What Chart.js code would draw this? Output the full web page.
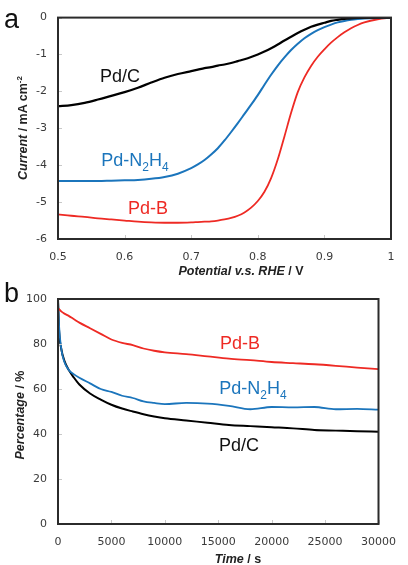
<!DOCTYPE html>
<html>
<head>
<meta charset="utf-8">
<script src="https://cdn.jsdelivr.net/npm/chart.js@4/dist/chart.umd.min.js"></script>
<style>
  html, body { margin: 0; padding: 0; background: #fff; }
  #wrap { position: relative; width: 408px; height: 565px; overflow: hidden; font-family: 'Liberation Sans', Arial, sans-serif; }
  .panel { position: absolute; left: 0; width: 408px; }
  .lbl { position: absolute; transform: translate(-50%, -50%); white-space: nowrap; font-size: 18px; line-height: 1; }
  .lbl sub { font-size: 12px; vertical-align: -5px; line-height: 0; }
  .letter { position: absolute; font-size: 27px; line-height: 1; color: #111; }
  .atitle { position: absolute; white-space: nowrap; font-size: 12.5px; font-weight: bold; color: #222; line-height: 1; }
  .atitle sup { font-size: 8px; vertical-align: 5px; line-height: 0; }
  .rot { transform: translate(-50%, -50%) rotate(-90deg); }
  .hor { transform: translate(-50%, -50%); }
</style>
</head>
<body>
<div id="wrap">
  <div class="panel" style="top:0;height:280px"><canvas id="chart-a"></canvas></div>
  <div class="panel" style="top:280px;height:285px"><canvas id="chart-b"></canvas></div>

  <div class="letter" style="left:4px;top:6px">a</div>
  <div class="letter" style="left:4px;top:280px">b</div>

  <div class="atitle rot" style="left:23px;top:128px"><i>Current</i> / mA cm<sup>-2</sup></div>
  <div class="atitle hor" style="left:241px;top:271px"><i>Potential v.s. RHE</i> / V</div>
  <div class="atitle rot" style="left:20px;top:415px"><i>Percentage</i> / %</div>
  <div class="atitle hor" style="left:238px;top:559px"><i>Time</i> / s</div>

  <div class="lbl" style="left:120px;top:76px;color:#111">Pd/C</div>
  <div class="lbl" style="left:135px;top:160px;color:#1b75bc">Pd-N<sub>2</sub>H<sub>4</sub></div>
  <div class="lbl" style="left:148px;top:208px;color:#ee2a24">Pd-B</div>

  <div class="lbl" style="left:240px;top:343px;color:#ee2a24">Pd-B</div>
  <div class="lbl" style="left:253px;top:388px;color:#1b75bc">Pd-N<sub>2</sub>H<sub>4</sub></div>
  <div class="lbl" style="left:239px;top:445px;color:#111">Pd/C</div>
</div>

<script>
// ── DATA ──────────────────────────────────────────────────────────────────────

// (a) polarization curves, potential in V vs RHE, current in mA cm-2
const potentials = [0.50,0.52,0.54,0.56,0.58,0.60,0.62,0.64,0.66,0.68,0.70,
                    0.71,0.72,0.73,0.74,0.75,0.76,0.77,0.78,0.79,0.80,
                    0.81,0.82,0.83,0.84,0.85,0.86,0.87,0.88,0.89,0.90,
                    0.91,0.92,0.93,0.94,0.95,0.96,0.98,1.00]
const curPdC = [-2.40,-2.37,-2.31,-2.22,-2.12,-2.02,-1.90,-1.76,-1.63,-1.53,-1.45,
                -1.41,-1.37,-1.34,-1.30,-1.27,-1.23,-1.18,-1.13,-1.07,-1.00,
                -0.92,-0.83,-0.73,-0.62,-0.52,-0.42,-0.33,-0.25,-0.19,-0.14,
                -0.09,-0.06,-0.035,-0.02,-0.01,-0.005,0,0]
const curPdN2H4 = [-4.43,-4.43,-4.43,-4.43,-4.42,-4.41,-4.40,-4.37,-4.32,-4.23,-4.08,
                   -3.98,-3.86,-3.71,-3.54,-3.33,-3.10,-2.86,-2.61,-2.36,-2.10,
                   -1.82,-1.55,-1.30,-1.08,-0.88,-0.71,-0.56,-0.44,-0.34,-0.26,
                   -0.19,-0.13,-0.09,-0.06,-0.04,-0.025,-0.008,0]
const curPdB = [-5.33,-5.37,-5.40,-5.44,-5.47,-5.50,-5.53,-5.55,-5.56,-5.56,-5.55,
                -5.54,-5.53,-5.52,-5.50,-5.47,-5.43,-5.37,-5.28,-5.15,-4.97,
                -4.72,-4.35,-3.84,-3.22,-2.58,-2.02,-1.62,-1.31,-1.06,-0.86,
                -0.68,-0.53,-0.40,-0.29,-0.20,-0.13,-0.045,0]

// (b) chronoamperometry, time in s, retained current in %
const times     = [0,100,300,600,1000,1500,2000,3000,4000,5000,6000,7000,8000,9000,10000,
                   12000,14000,16000,18000,20000,22000,24000,26000,28000,30000]
const pctPdB    = [96,95.5,94.5,93.5,92.5,91,89.5,87,84.5,82,80.5,79.5,78,77,76.3,
                   75.5,74.5,73.5,72.8,72,71.5,71,70.3,69.5,68.8]
const pctPdN2H4 = [100,88,78,72,68.5,66.5,65,62.5,60,58.7,57,56,54.5,53.8,53.3,
                   53.8,53.5,52.5,51,52,51.8,52,51,51.2,50.8]
const pctPdC    = [100,86,78,72.5,68.5,65,62,58,55.3,53,51.3,50,48.8,47.8,47,
                   46,45,44,43.5,43,42.5,41.8,41.5,41.2,41]

const C_BLACK = '#000000'
const C_BLUE  = '#1b75bc'
const C_RED   = '#ee2a24'

// ── HELPERS ───────────────────────────────────────────────────────────────────

const pts = (xs, ys) => xs.map((x, i) => ({ x, y: ys[i] }))

const line = (data, color, width) => ({
  data, borderColor: color, borderWidth: width, pointRadius: 0,
  fill: false, cubicInterpolationMode: 'monotone'
})

// Caixa em volta da área de plotagem + pequenos ticks internos
const boxPlugin = {
  id: 'box',
  afterDatasetsDraw(chart) {
    const { ctx, chartArea: a, scales: { x, y } } = chart
    ctx.save()
    ctx.strokeStyle = '#c8c8c8'; ctx.lineWidth = 1
    x.ticks.forEach(t => {
      const px = Math.round(x.getPixelForValue(t.value)) + 0.5
      ctx.beginPath(); ctx.moveTo(px, a.bottom); ctx.lineTo(px, a.bottom - 4); ctx.stroke()
    })
    y.ticks.forEach(t => {
      const py = Math.round(y.getPixelForValue(t.value)) + 0.5
      ctx.beginPath(); ctx.moveTo(a.left, py); ctx.lineTo(a.left + 4, py); ctx.stroke()
    })
    ctx.strokeStyle = '#2b2b2b'; ctx.lineWidth = 2
    ctx.strokeRect(a.left, a.top, a.right - a.left, a.bottom - a.top)
    ctx.restore()
  }
}

const tickFont = { family: 'DejaVu Sans', size: 11 }

function axes(xMin, xMax, xStep, xFmt, yMin, yMax, yStep) {
  return {
    x: {
      type: 'linear', min: xMin, max: xMax,
      grid: { display: false, drawTicks: false }, border: { display: false },
      ticks: { stepSize: xStep, color: '#3a3a3a', font: tickFont, padding: 12, maxRotation: 0, callback: xFmt },
      afterFit: s => { s.height = 41 }
    },
    y: {
      type: 'linear', min: yMin, max: yMax,
      grid: { display: false, drawTicks: false }, border: { display: false },
      ticks: { stepSize: yStep, color: '#3a3a3a', font: tickFont, padding: 11 },
      afterFit: s => { s.width = 58 }
    }
  }
}

const baseOpts = (scales, top) => ({
  responsive: true, maintainAspectRatio: false, animation: false,
  layout: { padding: { top, right: 17, left: 0, bottom: 0 } },
  plugins: { legend: { display: false }, tooltip: { enabled: false } },
  scales
})

// ── CHART A ───────────────────────────────────────────────────────────────────

new Chart(document.getElementById('chart-a'), {
  type: 'line',
  plugins: [boxPlugin],
  data: {
    datasets: [
      line(pts(potentials, curPdC), C_BLACK, 2.2),
      line(pts(potentials, curPdN2H4), C_BLUE, 2),
      line(pts(potentials, curPdB), C_RED, 1.8)
    ]
  },
  options: baseOpts(axes(0.5, 1, 0.1, v => String(Number(v.toFixed(1))), -6, 0, 1), 17)
})

// ── CHART B ───────────────────────────────────────────────────────────────────

new Chart(document.getElementById('chart-b'), {
  type: 'line',
  plugins: [boxPlugin],
  data: {
    datasets: [
      line(pts(times, pctPdB), C_RED, 1.8),
      line(pts(times, pctPdN2H4), C_BLUE, 1.8),
      line(pts(times, pctPdC), C_BLACK, 2)
    ]
  },
  options: baseOpts(axes(0, 30000, 5000, v => String(v), 0, 100, 20), 19)
})
</script>
</body>
</html>
